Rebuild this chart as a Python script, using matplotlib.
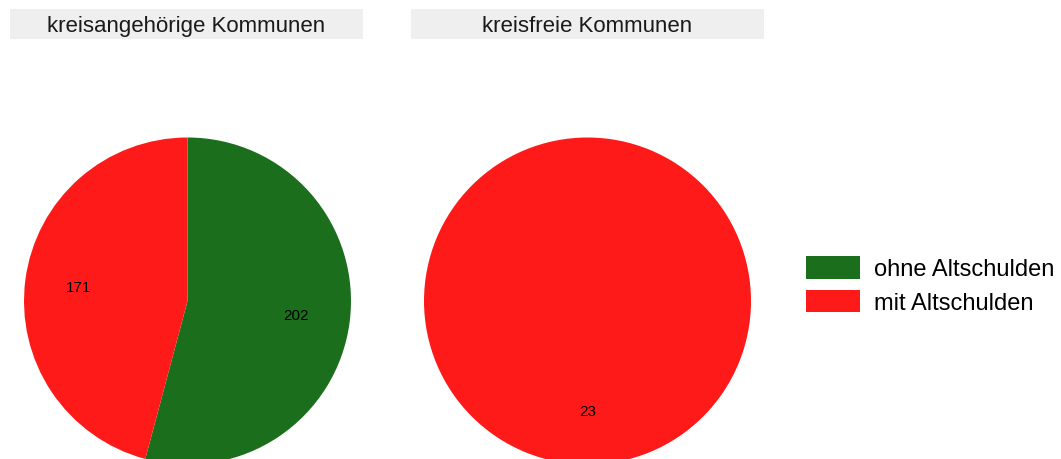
import matplotlib
matplotlib.use('Agg')
import matplotlib.pyplot as plt
from matplotlib.patches import Patch, Rectangle

plt.rcParams['font.family'] = ['Liberation Sans', 'DejaVu Sans']

panels = ['kreisangehörige Kommunen', 'kreisfreie Kommunen']
categories = ['ohne Altschulden', 'mit Altschulden']
ohne = [202, 0]
mit = [171, 23]
colors = ['#1b6e1b', '#ff1a1a']

W, H = 1061, 460
fig = plt.figure(figsize=(W / 100, H / 100), dpi=100)

def px(x0, y0, w, h):
    # pixel box (top-left origin) -> figure fraction
    return [x0 / W, 1 - (y0 + h) / H, w / W, h / H]

strip_x = [10, 411]
pie_x = [24, 424]
for i, name in enumerate(panels):
    r = Rectangle((strip_x[i] / W, 1 - 40 / H), 353 / W, 30 / H,
                  transform=fig.transFigure, facecolor='#efefef', edgecolor='none')
    fig.add_artist(r)
    fig.text((strip_x[i] + 176.5) / W, 1 - 26.5 / H, name, ha='center', va='center',
             fontsize=16, color='#1a1a1a')

    ax = fig.add_axes(px(pie_x[i], 138.5, 327, 327))
    vals = [ohne[i], mit[i]]
    cols = [c for v, c in zip(vals, colors) if v > 0]
    vals = [v for v in vals if v > 0]
    wedges, texts = ax.pie(vals, colors=cols, startangle=90, counterclock=False,
                           labels=[str(v) for v in vals], labeldistance=0.67,
                           wedgeprops=dict(linewidth=0),
                           textprops=dict(fontsize=11, color='black', ha='center', va='center'))
    for t in texts:
        t.set_ha('center')
    ax.set_xlim(-1, 1)
    ax.set_ylim(-1, 1)
    ax.set_aspect('equal')
    ax.axis('off')

handles = [Patch(facecolor=c, edgecolor='none') for c in colors]
fig.legend(handles, categories, loc='center left', bbox_to_anchor=(806 / W, 1 - 286 / H),
           frameon=False, fontsize=17, handlelength=2.3, handleheight=1.1,
           handletextpad=0.6, labelspacing=0.4, borderpad=0, borderaxespad=0)

fig.savefig('out.png', dpi=100)
